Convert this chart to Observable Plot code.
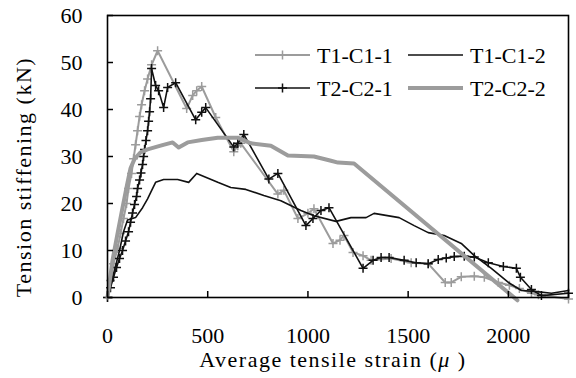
<!DOCTYPE html>
<html><head><meta charset="utf-8">
<script src="https://cdn.jsdelivr.net/npm/d3@7"></script>
<script src="https://cdn.jsdelivr.net/npm/@observablehq/plot@0.6"></script>
<style>
body{margin:0;background:#fff;}
svg, svg text, svg tspan{font-family:'Liberation Serif','Times New Roman',Times,'DejaVu Serif',serif !important;}
</style></head><body><div id="chart"></div>
<script>
// ---- data (strain in μ, force in kN) ----
const seriesNames = ["T1-C1-1", "T1-C1-2", "T2-C2-1", "T2-C2-2"];

const t1c11Strain = [0,15,30,50,65,80,95,105,120,130,140,150,160,170,185,200,220,250,395,425,445,470,540,630,650,665,850,880,950,1000,1030,1125,1160,1180,1225,1275,1315,1415,1515,1600,1685,1715,1765,1830,1880,1950,2005,2055,2115,2150,2300];
const t1c11Force  = [0,3.6,7.2,10.4,13.6,16.8,20,23.2,26.4,29.5,32.5,35.5,38.5,41,44,46.5,49.5,52.5,40.2,43,44,44.9,38.3,31,32.3,32.8,22,22.8,16.8,17.9,18.9,11.5,12.2,13.2,9.6,8.9,7.9,8.3,7.4,7.2,3.2,3.2,4.4,4.5,4.3,3.2,2.6,1.9,0.9,0.6,-0.3];

const t1c12Strain = [0,30,60,80,100,140,175,200,215,240,280,350,405,445,550,615,690,780,865,965,1030,1140,1215,1290,1330,1455,1530,1600,1680,1765,1830,1915,2000,2065,2130,2215,2300];
const t1c12Force  = [0,5,10,14,16.5,17,19.1,21,22.3,24.5,25.1,25.1,24.5,26.4,24.5,23.4,23,21.7,20.6,18.5,17.4,16.2,17,17,17.9,17,15.3,13.8,13.2,11.5,8.9,6.2,3.2,1.5,1.3,0.9,1.5];

const t2c21Strain = [0,15,30,45,60,75,90,105,115,125,135,145,150,160,167,175,180,185,192,200,205,210,215,220,240,255,280,300,340,440,470,490,630,650,680,805,850,990,1025,1065,1105,1275,1325,1365,1405,1480,1540,1600,1650,1690,1730,1780,1830,1900,1975,2040,2060,2115,2165,2300];
const t2c21Force  = [0,2.1,4.3,6.4,8.3,10,12,14,16,18,19.8,21.5,23.2,25,26.5,28.3,30,31.5,33.4,35.5,37.5,39.5,42.3,48.7,45.1,44,40.4,44.7,45.7,37.8,39.4,40.4,32,32.8,34.7,25.2,26.4,15.3,16.8,18.5,19.1,6.2,7.9,8.5,8.5,7.9,7.4,7.2,8.1,8.4,8.7,8.8,8.6,7.4,6.6,6.2,4.3,1.7,0.4,0.9];

const t2c22Strain = [0,25,50,75,100,115,135,165,200,265,325,355,400,470,550,650,715,815,900,1030,1115,1150,1230,2045];
const t2c22Force  = [0,7.9,13.6,19.1,24.5,27.5,29.5,30.9,31.5,32.3,33,31.9,33,33.5,34,34,32.8,32.3,30.2,30,29.1,28.7,28.5,-0.6];

const xTicks = [0, 500, 1000, 1500, 2000];
const yTicks = [0, 10, 20, 30, 40, 50, 60];
const xTitle = "Average tensile strain (";
const xTitleMu = "μ";
const xTitleEnd = " )";
const yTitle = "Tension stiffening (kN)";

// ---- build rows ----
const rows = (xs, ys) => xs.map((x, i) => ({x, y: ys[i]}));
const s1 = rows(t1c11Strain, t1c11Force);
const s2 = rows(t1c12Strain, t1c12Force);
const s3 = rows(t2c21Strain, t2c21Force);
const s4 = rows(t2c22Strain, t2c22Force);

const FONT = "'Liberation Serif','Times New Roman',Times,'DejaVu Serif',serif";
const GRAY = "#9c9c9c", BLACK = "#111";
const cross = {
  draw(ctx, size) {
    const r = Math.sqrt(size / Math.PI);
    ctx.moveTo(-r, 0); ctx.lineTo(r, 0);
    ctx.moveTo(0, -r); ctx.lineTo(0, r);
  }
};

const chart = Plot.plot({
  width: 576, height: 378,
  marginLeft: 107, marginRight: 8, marginTop: 15, marginBottom: 81,
  style: {fontFamily: FONT, fontSize: "22px", color: "#000", background: "#fff"},
  x: {domain: [0, 2300]},
  y: {domain: [0, 60]},
  marks: [
    Plot.line(s1, {x: "x", y: "y", stroke: GRAY, strokeWidth: 2}),
    Plot.dot(s1, {x: "x", y: "y", symbol: cross, r: 4.5, stroke: GRAY, strokeWidth: 1.5, fill: "none"}),
    Plot.line(s2, {x: "x", y: "y", stroke: BLACK, strokeWidth: 1.6}),
    Plot.line(s3, {x: "x", y: "y", stroke: BLACK, strokeWidth: 1.6}),
    Plot.dot(s3, {x: "x", y: "y", symbol: cross, r: 4.5, stroke: BLACK, strokeWidth: 1.5, fill: "none"}),
    Plot.line(s4, {x: "x", y: "y", stroke: GRAY, strokeWidth: 4}),
    Plot.axisX({ticks: xTicks, tickSize: -6, tickPadding: 36, tickFormat: d => String(d), label: null, fontSize: 22, stroke: "#000", strokeWidth: 1.5}),
    Plot.axisY({ticks: yTicks, tickSize: -6, tickPadding: 31, tickFormat: d => String(d), label: null, fontSize: 22, stroke: "#000", strokeWidth: 1.5}),
    Plot.frame({stroke: "#000", strokeWidth: 1.6})
  ]
});
document.getElementById("chart").appendChild(chart);

// ---- titles and legend ----
const svg = d3.select(chart);
svg.attr("font-family", FONT);
svg.selectAll("text").attr("font-family", FONT);
const xt = svg.append("text")
  .attr("x", 333).attr("y", 367).attr("text-anchor", "middle").attr("font-family", FONT)
  .style("font-size", "22px").style("letter-spacing", "1.5px").attr("fill", "#000");
xt.append("tspan").text(xTitle);
xt.append("tspan").style("font-style", "italic").text(xTitleMu);
xt.append("tspan").text(xTitleEnd);

svg.append("text")
  .attr("transform", "translate(31,177) rotate(-90)")
  .attr("text-anchor", "middle").attr("font-family", FONT)
  .style("font-size", "22px").style("letter-spacing", "1.5px").attr("fill", "#000")
  .text(yTitle);

const legendItems = [
  {name: seriesNames[0], color: GRAY, w: 2, marker: true, col: 0, row: 0},
  {name: seriesNames[1], color: BLACK, w: 1.6, marker: false, col: 1, row: 0},
  {name: seriesNames[2], color: BLACK, w: 1.6, marker: true, col: 0, row: 1},
  {name: seriesNames[3], color: GRAY, w: 4, marker: false, col: 1, row: 1}
];
const lg = svg.append("g");
for (const it of legendItems) {
  const x0 = it.col === 0 ? 255 : 408;
  const y0 = it.row === 0 ? 55 : 88;
  lg.append("line").attr("x1", x0).attr("x2", x0 + 55).attr("y1", y0).attr("y2", y0)
    .attr("stroke", it.color).attr("stroke-width", it.w);
  if (it.marker) {
    const cx = x0 + 27.5;
    lg.append("path").attr("d", `M${cx-4.5},${y0}H${cx+4.5}M${cx},${y0-4.5}V${y0+4.5}`)
      .attr("stroke", it.color).attr("stroke-width", 1.5).attr("fill", "none");
  }
  lg.append("text").attr("x", x0 + 62).attr("y", y0 + 7.5).attr("text-anchor", "start")
    .attr("font-family", FONT).style("font-size", "22px").attr("fill", "#000").text(it.name);
}
</script></body></html>
